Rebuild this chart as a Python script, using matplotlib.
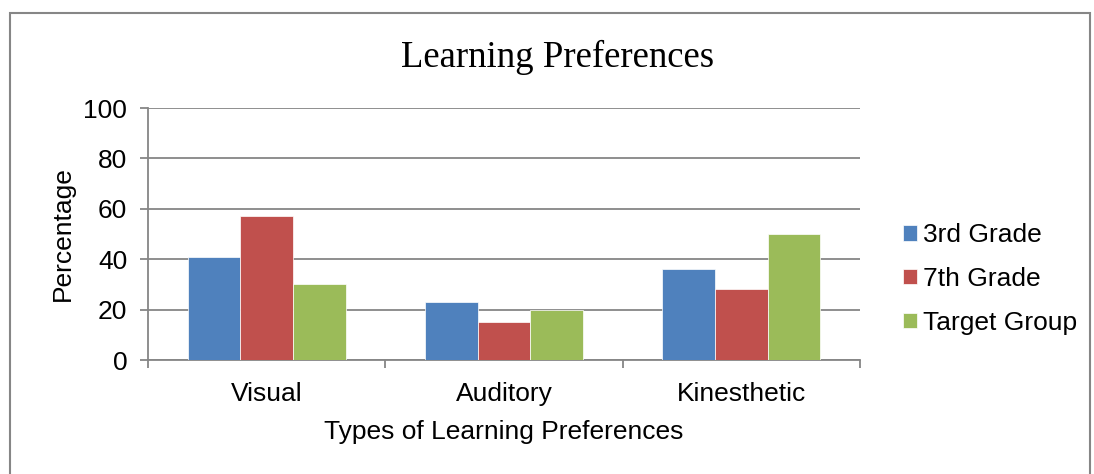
import matplotlib
matplotlib.use("Agg")
import matplotlib.pyplot as plt
import numpy as np
from matplotlib.patches import Rectangle

categories = ["Visual", "Auditory", "Kinesthetic"]
series_names = ["3rd Grade", "7th Grade", "Target Group"]
grade3 = [41, 23, 36]
grade7 = [57, 15, 28]
target = [30, 20, 50]
colors = ["#4F81BD", "#C0504D", "#9BBB59"]
yticks = [0, 20, 40, 60, 80, 100]

plt.rcParams['font.family'] = ['Liberation Sans', 'DejaVu Sans']

fig = plt.figure(figsize=(10.94, 4.74), dpi=100)
W, H = 1094, 474
ax = fig.add_axes([148 / W, 1 - 360 / H, (860 - 148) / W, (360 - 108) / H])

# figure border
fig.patches.append(Rectangle((10 / W, -0.05), (1090 - 10) / W, 1 - 13 / H + 0.05,
                             transform=fig.transFigure, fill=False,
                             edgecolor="#868686", linewidth=1.5))

x = np.arange(len(categories))
bw = 0.222
for i, (vals, name) in enumerate(zip([grade3, grade7, target], series_names)):
    ax.bar(x + (i - 1) * bw, vals, width=bw, color=colors[i], label=name,
           edgecolor="white", linewidth=0.5, zorder=3)

fs = 19
ax.set_xlim(-0.5, 2.5)
ax.set_ylim(0, 100)
ax.set_yticks(yticks)
ax.yaxis.grid(True, color="#868686", linewidth=1.3, zorder=0)
ax.set_axisbelow(True)
for s in ["top", "right"]:
    ax.spines[s].set_visible(False)
ax.spines["left"].set_color("#868686")
ax.spines["bottom"].set_color("#868686")
ax.spines["left"].set_linewidth(1.3)
ax.spines["bottom"].set_linewidth(1.3)

ax.set_xticks(x)
ax.set_xticklabels(categories, fontsize=fs)
ax.set_xticks([-0.5, 0.5, 1.5, 2.5], minor=True)
ax.tick_params(axis="x", which="major", length=0, pad=16)
ax.tick_params(axis="x", which="minor", length=6, color="#868686", width=1.3)
ax.tick_params(axis="y", length=6, color="#868686", width=1.3, labelsize=fs, pad=9)

ax.set_ylabel("Percentage", fontsize=fs, labelpad=6)
ax.set_xlabel("Types of Learning Preferences", fontsize=fs, labelpad=10)

fig.text(558 / W, 1 - 57 / H, "Learning Preferences", family="Liberation Serif",
         fontsize=26.5, ha="center", va="center")

leg = ax.legend(loc="center left", bbox_to_anchor=(903 / W, 1 - 279 / H),
                bbox_transform=fig.transFigure, frameon=False, fontsize=fs,
                handlelength=0.53, handleheight=0.53, handletextpad=0.22,
                labelspacing=0.75, borderpad=0, borderaxespad=0)

fig.savefig("out.png", dpi=100)
